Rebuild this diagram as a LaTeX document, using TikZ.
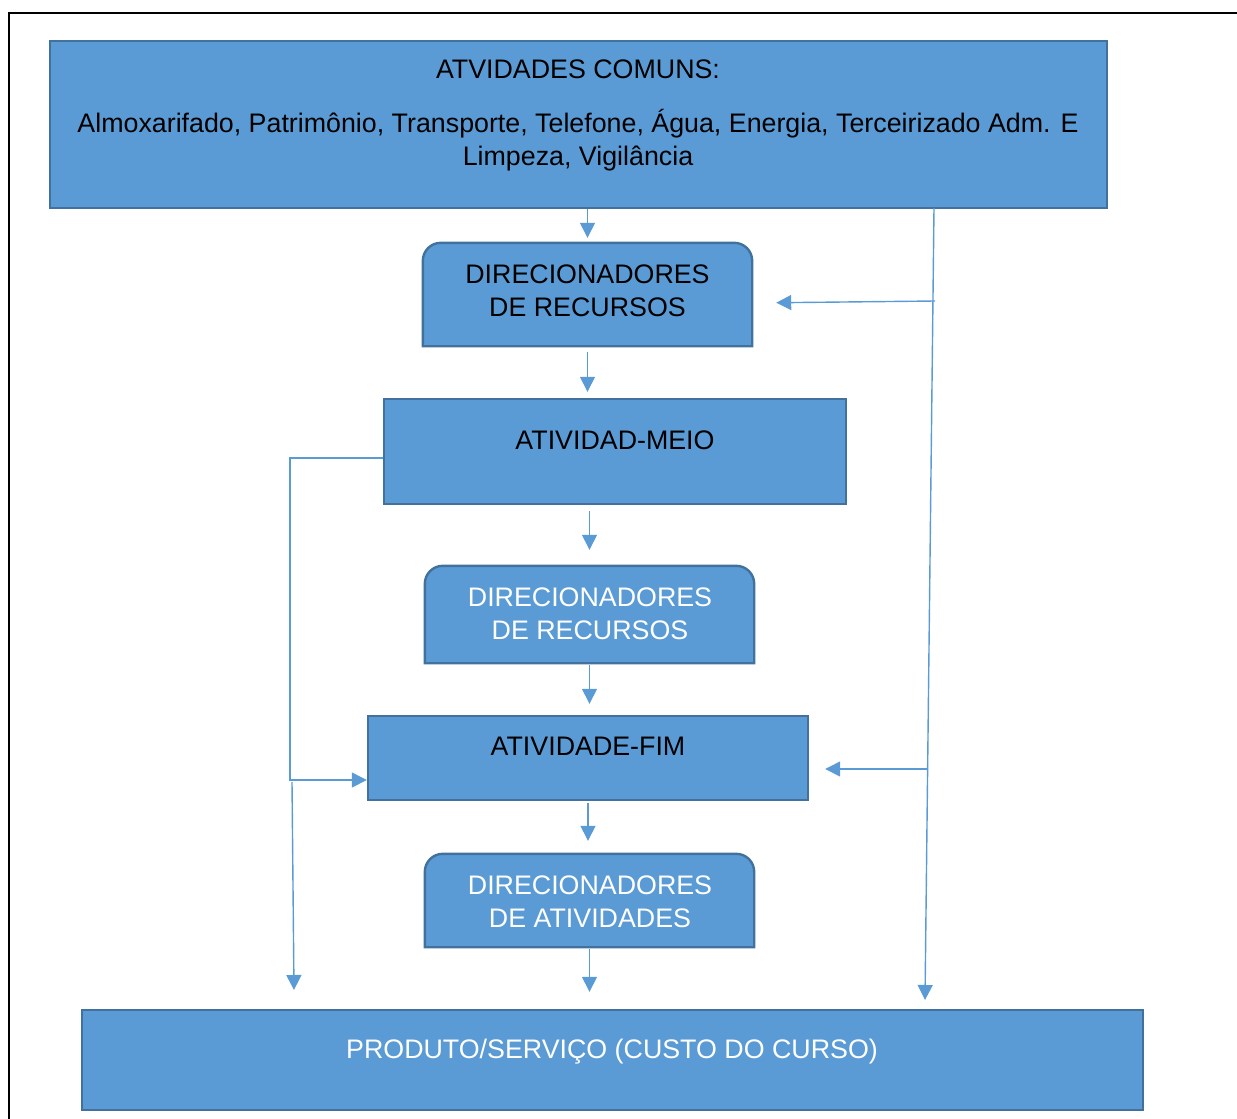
\documentclass[tikz,border=0pt]{standalone}
\usepackage{fontspec}
\setmainfont{Liberation Sans}
\usetikzlibrary{arrows.meta}
\definecolor{boxfill}{HTML}{5B9BD5}
\definecolor{boxedge}{HTML}{41719C}
\begin{document}
\begin{tikzpicture}[x=1pt,y=-1pt,
  box/.style={draw=boxedge, fill=boxfill, line width=2.4pt, rectangle, inner sep=0pt},
  shell/.style={rectangle, inner sep=0pt},
  topround/.style={draw=boxedge, fill=boxfill, line width=2.4pt},
  lbl/.style={anchor=base, inner sep=0pt, font=\fontsize{26.8}{33}\selectfont},
  conn/.style={draw=boxfill, line width=1.4pt},
  arr/.style={conn, -{Triangle[width=15pt,length=15pt]}}]
\useasboundingbox (0,0) rectangle (1237,1119);

% page frame
\draw[line width=2.5pt] (9,1130) -- (9,13) -- (1250,13);

% rectangular boxes
\node[box, minimum width=1057pt, minimum height=167pt] (top) at (578.5,124.5) {};
\node[box, minimum width=462pt, minimum height=105pt] (am) at (615,451.5) {};
\node[box, minimum width=440pt, minimum height=84pt] (af) at (588,758) {};
\node[box, minimum width=1061pt, minimum height=100pt] (pr) at (612.5,1060) {};

% boxes with rounded top corners
\node[shell, minimum width=329pt, minimum height=103pt] (dr1) at (587.5,294.5) {};
\node[shell, minimum width=329pt, minimum height=97pt] (dr2) at (589.5,614.5) {};
\node[shell, minimum width=329pt, minimum height=93pt] (dr3) at (589.5,900.5) {};
\foreach \n in {dr1,dr2,dr3}{
  \path[topround] (\n.south west) -- ([yshift=-18pt]\n.north west)
    arc[start angle=180, end angle=90, radius=18pt]
    -- ([xshift=-18pt]\n.north east)
    arc[start angle=90, end angle=0, radius=18pt]
    -- (\n.south east) -- cycle;
}

% texts
\node[lbl] (t1) at (578,78.5) {ATVIDADES COMUNS:};
\node[lbl] (t2) at (578,132.5) {Almoxarifado, Patrimônio, Transporte, Telefone, Água, Energia, Terceirizado Adm. E};
\node[lbl] (t3) at (578,165.5) {Limpeza, Vigilância};
\node[lbl] (d1a) at (587.5,283.5) {DIRECIONADORES};
\node[lbl] (d1b) at (587.5,316.5) {DE RECURSOS};
\node[lbl] (amt) at (615,449.5) {ATIVIDAD-MEIO};
\node[lbl, text=white] (d2a) at (590,606.5) {DIRECIONADORES};
\node[lbl, text=white] (d2b) at (590,639.5) {DE RECURSOS};
\node[lbl] (aft) at (588,755.5) {ATIVIDADE-FIM};
\node[lbl, text=white] (d3a) at (590,894.5) {DIRECIONADORES};
\node[lbl, text=white] (d3b) at (590,927.5) {DE ATIVIDADES};
\node[lbl, text=white] (prt) at (612,1058.5) {PRODUTO/SERVIÇO (CUSTO DO CURSO)};

% central chain
\draw[arr, shorten >=5pt] (top.south -| dr1.north) -- (dr1.north);
\draw[arr, shorten <=6pt, shorten >=6pt] (dr1.south) -- (dr1.south |- am.north);
\draw[arr, shorten <=6pt, shorten >=16pt] (am.south -| dr2.north) -- (dr2.north);
\draw[arr, shorten <=2pt, shorten >=11pt] (dr2.south) -- (dr2.south |- af.north);
\draw[arr, shorten <=2pt, shorten >=13pt] (af.south) -- (af.south |- dr3.north);
\draw[arr, shorten <=2pt, shorten >=17pt] (dr3.south) -- (dr3.south |- pr.north);

% left bypass
\draw[arr] ([yshift=-6.5pt]am.west) -- ++(-93,0) |- ([yshift=-22pt]af.west);
\coordinate (lsplit) at (292,782);
\coordinate (ldrop) at (294,990);
\draw[arr] (lsplit) -- (ldrop);

% right bypass
\coordinate (rtop) at (934,208);
\coordinate (rbot) at (925,1000);
\coordinate (rb1) at (935,301);
\coordinate (rb2) at (927,769);
\draw[arr] (rtop) -- (rbot);
\draw[arr, shorten >=24pt] (rb1) -- ([yshift=-8.5pt]dr1.east);
\draw[arr, shorten >=16pt] (rb2) -- ([yshift=-11pt]af.east);
\end{tikzpicture}
\end{document}
